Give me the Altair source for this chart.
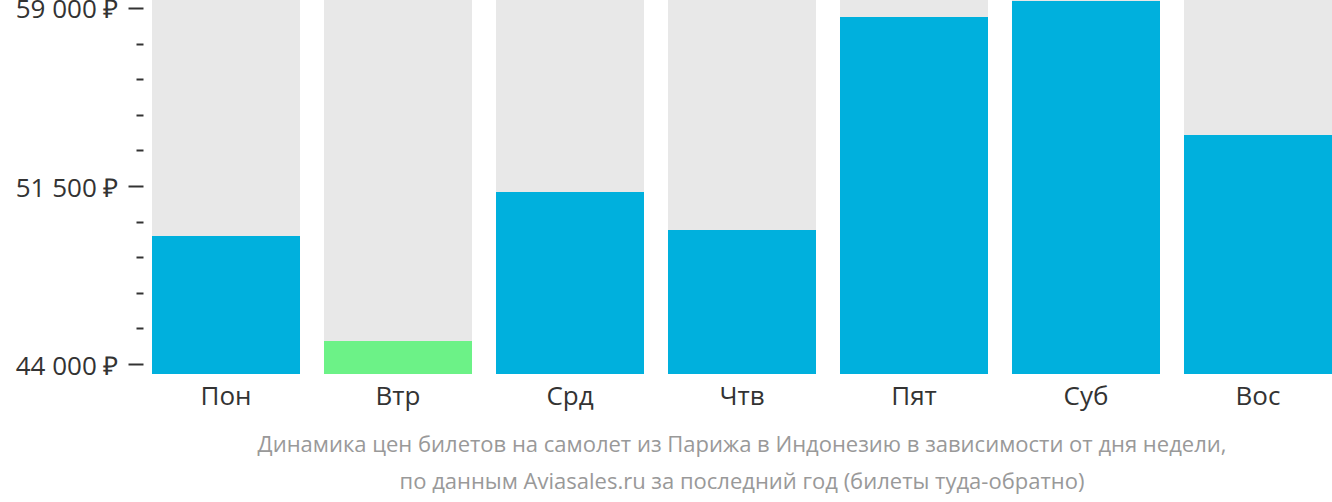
import altair as alt
import pandas as pd

days = ["Пон", "Втр", "Срд", "Чтв", "Пят", "Суб", "Вос"]
prices = [49393, 44969, 51247, 49646, 58621, 59295, 53649]
colors = ["#00B0DD", "#6CF287", "#00B0DD", "#00B0DD", "#00B0DD", "#00B0DD", "#00B0DD"]
tick_values = [44000, 45500, 47000, 48500, 50000, 51500, 53000, 54500, 56000, 57500, 59000]
caption = [
    "Динамика цен билетов на самолет из Парижа в Индонезию в зависимости от дня недели,",
    "по данным Aviasales.ru за последний год (билеты туда-обратно)",
]

y_min, y_max = 43579, 59337

df = pd.DataFrame({"day": days, "price": prices, "color": colors})
df["top"] = y_max
df["bottom"] = y_min

x_enc = alt.X(
    "day:N",
    sort=days,
    scale=alt.Scale(paddingInner=0.1395, paddingOuter=0),
    axis=alt.Axis(
        title=None, ticks=False, domain=False, labelAngle=0,
        labelFont="Open Sans", labelFontSize=26, labelColor="#333333",
        labelPadding=9,
    ),
)

y_scale = alt.Scale(domain=[y_min, y_max], zero=False, nice=False)

major_test = "datum.value % 7500 == 6500"
label_expr = (major_test + " ? replace(format(datum.value, ',d'), ',', ' ') + ' ₽' : ''")

y_axis = alt.Axis(
    title=None,
    values=tick_values,
    tickCount=30,
    domain=False,
    grid=False,
    offset=9,
    labelOverlap=False,
    tickColor="#333333",
    tickWidth=2,
    tickSize={"condition": {"test": major_test, "value": 15}, "value": 7},
    labelExpr=label_expr,
    labelFont="Open Sans",
    labelFontSize=26,
    labelColor="#333333",
    labelPadding=10,
    labelOffset=2,
)

base = alt.Chart(df)

bg = base.mark_bar(color="#E8E8E8").encode(
    x=x_enc,
    y=alt.Y("top:Q", scale=y_scale, axis=y_axis),
    y2="bottom:Q",
)

fg = base.mark_bar().encode(
    x=x_enc,
    y=alt.Y("price:Q", scale=y_scale),
    y2="bottom:Q",
    color=alt.Color("color:N", scale=None),
)

chart = alt.layer(bg, fg).properties(
    width=1180,
    height=374,
    autosize=alt.AutoSizeParams(type="none"),
    padding={"left": 152, "top": 0, "right": 0, "bottom": 128},
    title=alt.TitleParams(
        text=caption,
        orient="bottom",
        anchor="middle",
        font="Open Sans",
        fontSize=22,
        fontWeight="normal",
        color="#999999",
        lineHeight=37,
        offset=26,
    ),
).configure_view(stroke=None)

chart.save("out.html", embed_options={"renderer": "svg", "actions": False})
